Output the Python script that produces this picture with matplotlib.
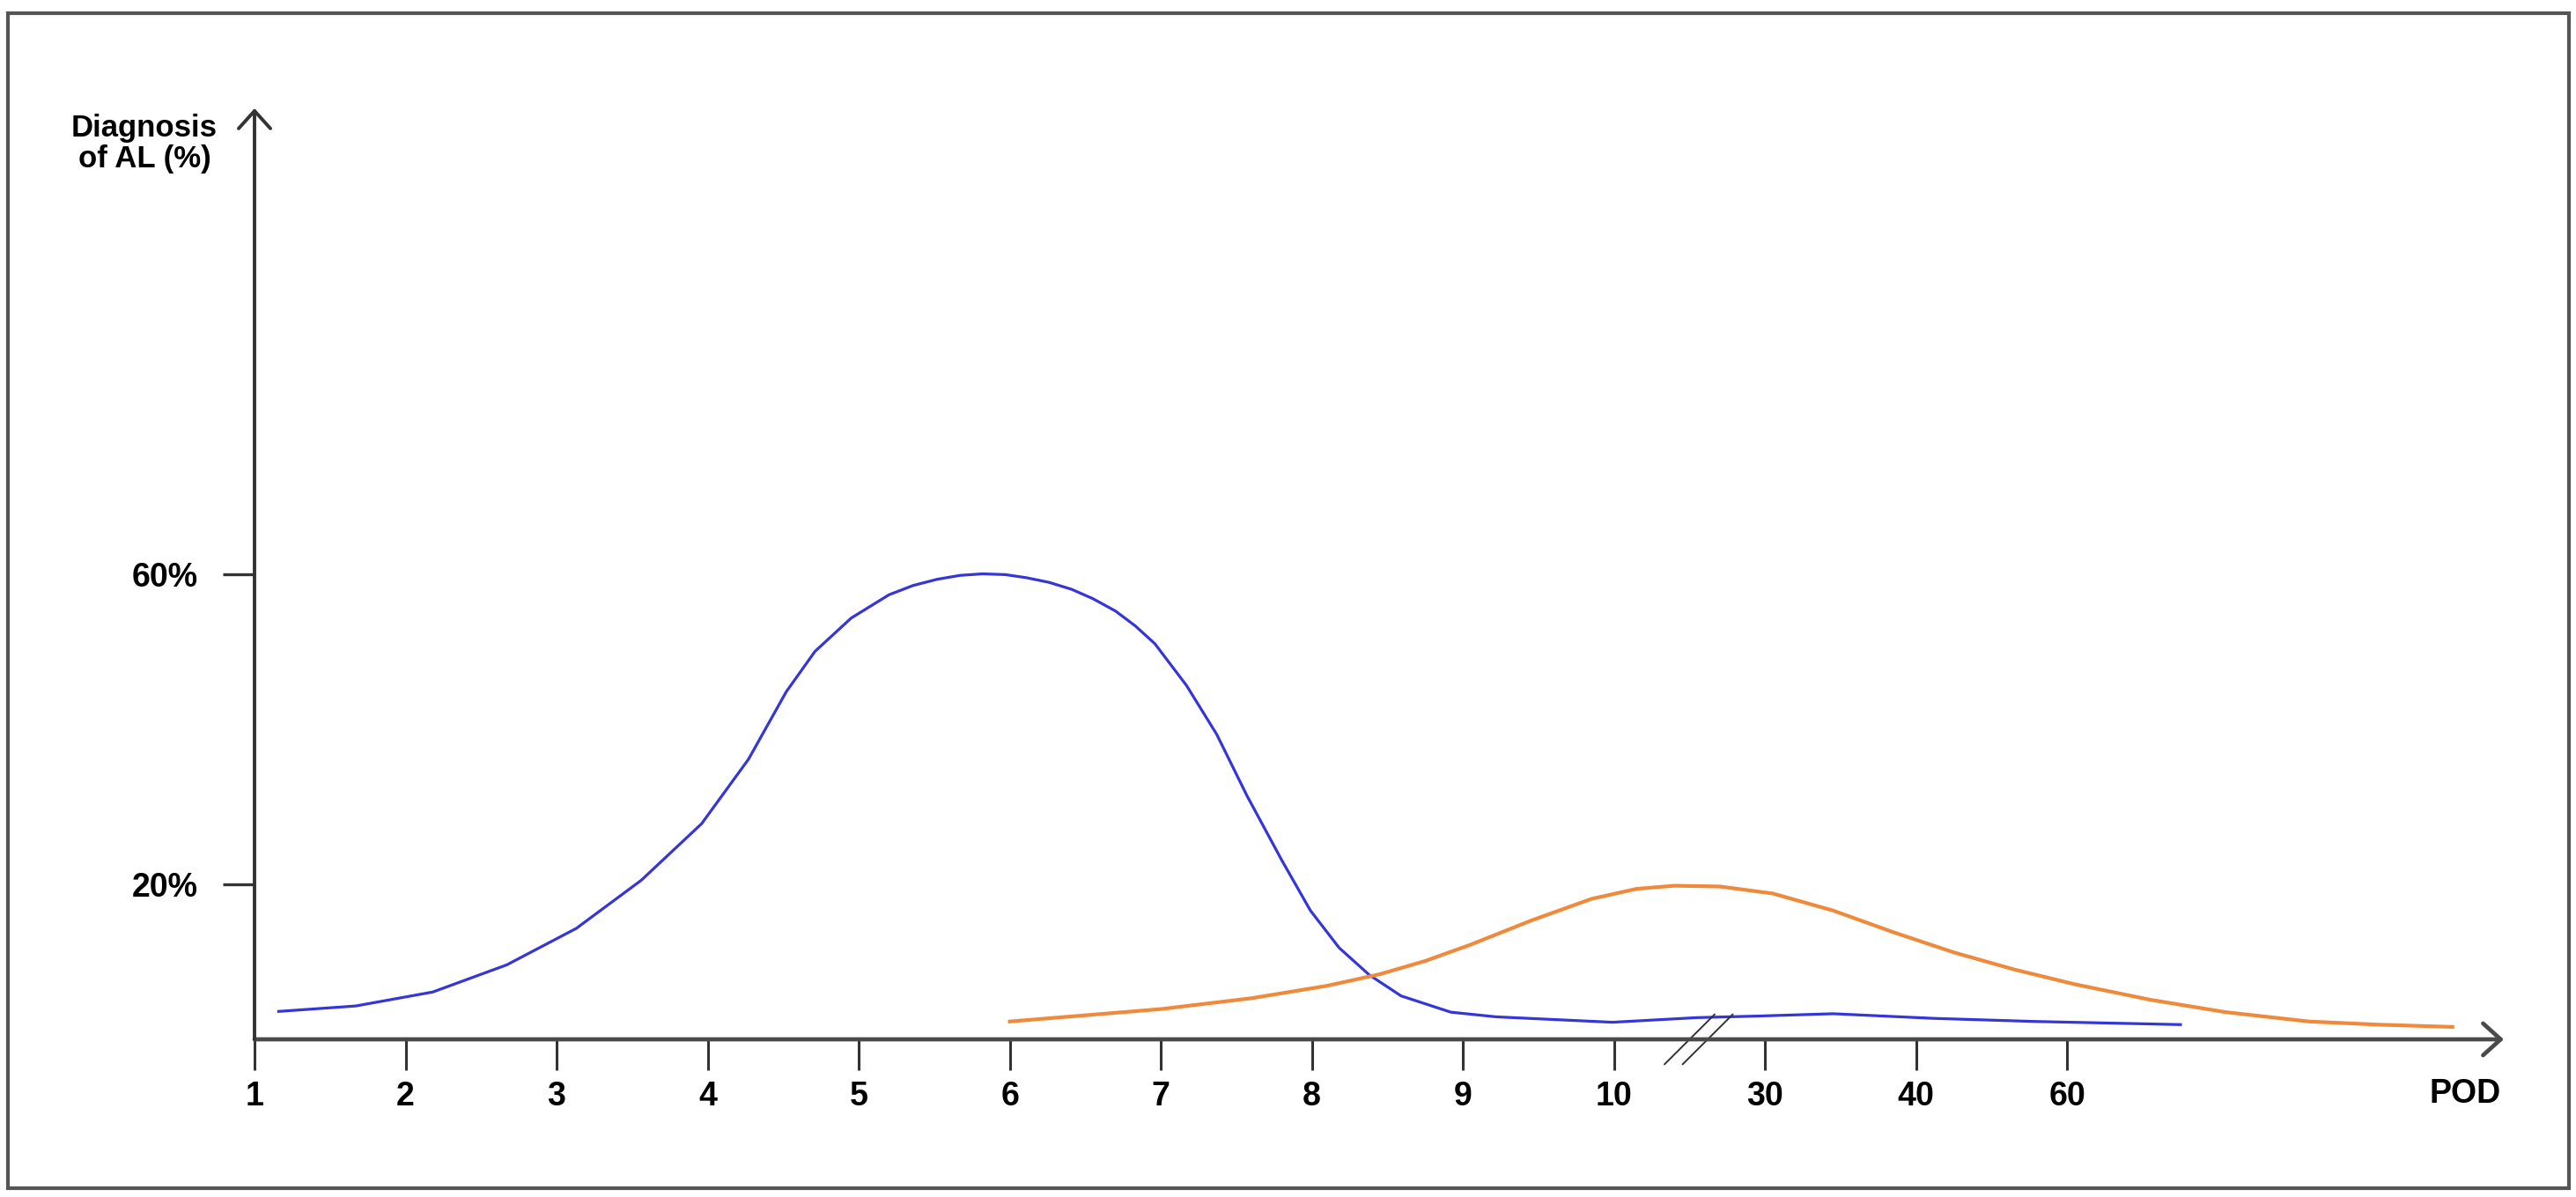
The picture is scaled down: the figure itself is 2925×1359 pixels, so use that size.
import numpy as np
import matplotlib
matplotlib.use("Agg")
import matplotlib.pyplot as plt
from matplotlib.patches import Rectangle

plt.rcParams['font.family'] = ['Liberation Sans Narrow', 'Liberation Sans', 'DejaVu Sans']
plt.rcParams['font.weight'] = 'bold'

# x axis is categorical (POD with a break between 10 and 30)
pod_labels = ['1', '2', '3', '4', '5', '6', '7', '8', '9', '10', '30', '40', '60']
pod_pos = np.arange(len(pod_labels))

y_ticks = [20, 60]
y_tick_labels = ['20%', '60%']

# blue curve (position on the POD axis, % diagnosis)
blue_x = [0.16, 0.67, 1.18, 1.67, 2.13, 2.56, 2.96, 3.27, 3.52, 3.71, 3.95, 4.20,
          4.36, 4.52, 4.67, 4.82, 4.97, 5.11, 5.26, 5.41, 5.55, 5.70, 5.83, 5.96,
          6.17, 6.37, 6.57, 6.80, 6.99, 7.18, 7.38, 7.59, 7.92, 8.22, 8.99, 9.55,
          9.95, 10.45, 11.12, 11.79, 12.75]
blue_y = [3.6, 4.3, 6.1, 9.6, 14.3, 20.5, 27.8, 36.1, 44.8, 50.0, 54.3, 57.3,
          58.5, 59.3, 59.8, 60.0, 59.9, 59.5, 58.9, 58.0, 56.8, 55.2, 53.3, 51.0,
          45.6, 39.3, 31.4, 23.1, 16.6, 11.8, 8.3, 5.6, 3.5, 2.9, 2.2, 2.8,
          3.0, 3.3, 2.7, 2.3, 1.9]

# orange curve
orange_x = [5.0, 6.0, 6.6, 7.1, 7.45, 7.75, 8.05, 8.45, 8.85, 9.15, 9.4, 9.7,
            10.05, 10.45, 10.85, 11.25, 11.65, 12.05, 12.55, 13.05, 13.6, 14.05, 14.55]
orange_y = [2.3, 3.9, 5.3, 6.9, 8.4, 10.1, 12.2, 15.3, 18.1, 19.4, 19.8, 19.7,
            18.8, 16.6, 13.8, 11.2, 9.0, 7.1, 5.1, 3.5, 2.3, 1.9, 1.6]

break_pos = 9.62

W, H = 2925, 1359
fig = plt.figure(figsize=(W / 100, H / 100), dpi=100)
ax = fig.add_axes([289 / W, 1 - 1180 / H, (2843 - 289) / W, (1180 - 123) / H])
ax.set_xlim(0, 14.89)
ax.set_ylim(0, 120)

for s in ax.spines.values():
    s.set_visible(False)

# axes drawn as open arrows
axis_col = '#4a4a4a'
ax.annotate('', xy=(1, 0), xytext=(0, 0), xycoords='axes fraction',
            arrowprops=dict(arrowstyle='->,head_length=0.72,head_width=0.65',
                            lw=3.4, color=axis_col, mutation_scale=20,
                            shrinkA=0, shrinkB=0))
ax.annotate('', xy=(0, 1), xytext=(0, 0), xycoords='axes fraction',
            arrowprops=dict(arrowstyle='->,head_length=0.72,head_width=0.65',
                            lw=2.8, color='#333333', mutation_scale=20,
                            shrinkA=0, shrinkB=0))

ax.plot(blue_x, blue_y, color='#3535d8', lw=2.3, solid_joinstyle='round')
ax.plot(orange_x, orange_y, color='#ef8a3c', lw=3.0, solid_joinstyle='round')

# axis break marks
for off in [-0.12, 0.0]:
    ax.plot([break_pos + off - 0.165, break_pos + off + 0.165], [-3.2, 3.2],
            color='#333333', lw=1.4, clip_on=False)

ax.set_xticks(pod_pos)
ax.set_xticklabels(pod_labels)
ax.set_yticks(y_ticks)
ax.set_yticklabels(y_tick_labels)
ax.tick_params(axis='x', direction='out', length=25, width=2.2, color='#333333',
               pad=9, labelsize=27)
ax.tick_params(axis='y', direction='out', length=26, width=2.4, color='#333333',
               pad=20, labelsize=27)
for lab in ax.get_xticklabels() + ax.get_yticklabels():
    lab.set_fontweight('bold')

fig.text(164 / W, 1 - 163 / H, 'Diagnosis\nof AL (%)', ha='center', va='center',
         fontsize=25, fontweight='bold', linespacing=1.05)
fig.text(2799 / W, 1 - 1242 / H, 'POD', ha='center', va='center',
         fontsize=27, fontweight='bold')

# outer frame
fig.add_artist(Rectangle((9 / W, 1 - 1349 / H), (2917 - 9) / W, (1349 - 15) / H,
                         transform=fig.transFigure, fill=False, lw=3, ec='#555555'))

fig.savefig('out.png', dpi=100, facecolor='white')
